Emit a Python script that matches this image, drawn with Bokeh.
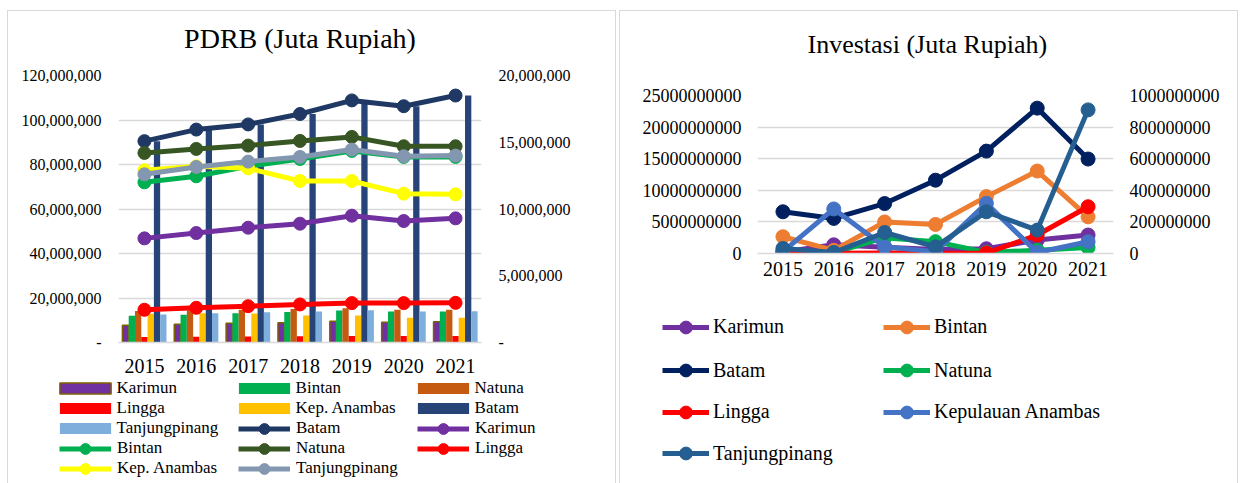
from bokeh.plotting import figure
from bokeh.models import (ColumnDataSource, FactorRange, Range1d, LinearAxis, FixedTicker,
                          Legend, LegendItem, Title)
from bokeh.transform import dodge
from bokeh.layouts import row, column
from bokeh.embed import file_html
from bokeh.resources import INLINE

FONT = "Liberation Serif"
GRID = "#D9D9D9"
BORDER = "1px solid #D9D9D9"

years = ["2015", "2016", "2017", "2018", "2019", "2020", "2021"]

# ---------------- PDRB (Juta Rupiah) ----------------
pdrb_karimun = [7800000, 8200000, 8600000, 8900000, 9500000, 9100000, 9300000]
pdrb_bintan = [12000000, 12450000, 13200000, 13750000, 14350000, 13900000, 13900000]
pdrb_natuna = [14200000, 14500000, 14750000, 15100000, 15400000, 14700000, 14700000]
pdrb_lingga = [2450000, 2600000, 2720000, 2850000, 2950000, 2950000, 2970000]
pdrb_anambas = [12900000, 13200000, 13050000, 12100000, 12100000, 11150000, 11100000]
pdrb_batam = [90500000, 95700000, 98000000, 102700000, 108800000, 106200000, 111000000]
pdrb_tanjungpinang = [12600000, 13150000, 13550000, 13900000, 14450000, 13950000, 14000000]

pdrb_left_ticks = [0, 20000000, 40000000, 60000000, 80000000, 100000000, 120000000]
pdrb_left_labels = ["-", "20,000,000", "40,000,000", "60,000,000", "80,000,000",
                    "100,000,000", "120,000,000"]
pdrb_right_ticks = [0, 5000000, 10000000, 15000000, 20000000]
pdrb_right_labels = ["-", "5,000,000", "10,000,000", "15,000,000", "20,000,000"]

# ---------------- Investasi (Juta Rupiah) ----------------
inv_karimun = [10000000, 55000000, 40000000, 25000000, 30000000, 85000000, 117000000]
inv_bintan = [2650000000, 500000000, 5000000000, 4600000000, 9000000000, 13050000000, 5800000000]
inv_batam = [6600000000, 5550000000, 7900000000, 11600000000, 16200000000, 23000000000, 14950000000]
inv_natuna = [15000000, 5000000, 100000000, 75000000, 6000000, 21000000, 38000000]
inv_lingga = [3000000, 2000000, 3000000, 2000000, 3000000, 117000000, 296000000]
inv_anambas = [12000000, 282000000, 42000000, 11000000, 317000000, 6000000, 74000000]
inv_tanjungpinang = [32000000, 6000000, 133000000, 42000000, 264000000, 148000000, 909000000]

inv_left_ticks = [0, 5000000000, 10000000000, 15000000000, 20000000000, 25000000000]
inv_left_labels = ["0", "5000000000", "10000000000", "15000000000", "20000000000", "25000000000"]
inv_right_ticks = [0, 200000000, 400000000, 600000000, 800000000, 1000000000]
inv_right_labels = ["0", "200000000", "400000000", "600000000", "800000000", "1000000000"]


def style_y_axis(ax, ticks, labels, size, standoff):
    ax.ticker = FixedTicker(ticks=ticks)
    ax.major_label_overrides = {t: l for t, l in zip(ticks, labels)}
    ax.axis_line_color = None
    ax.major_tick_line_color = None
    ax.minor_tick_line_color = None
    ax.major_tick_out = 0
    ax.major_tick_in = 0
    ax.major_label_text_font = FONT
    ax.major_label_text_font_size = size
    ax.major_label_text_color = "black"
    ax.major_label_standoff = standoff


def style_x_axis(ax, standoff):
    ax.axis_line_color = GRID
    ax.axis_line_width = 1.5
    ax.major_tick_line_color = None
    ax.minor_tick_line_color = None
    ax.major_tick_out = 0
    ax.major_tick_in = 0
    ax.major_label_text_font = FONT
    ax.major_label_text_font_size = "20px"
    ax.major_label_text_color = "black"
    ax.major_label_standoff = standoff


def add_titles(p, text, size, standoff, spacer_standoff, align="center", offset=0):
    # a tiny spacer next to the frame, then the real title above it
    p.add_layout(Title(text=" ", text_font_size="2px", standoff=spacer_standoff,
                       text_color="white"), "above")
    p.add_layout(Title(text=text, align=align, offset=offset, text_font=FONT,
                       text_font_size=size, text_font_style="normal", text_color="black",
                       standoff=standoff), "above")


def add_legend(p, items, vx, vy, gw, gh, lh, lw, standoff, size):
    leg = Legend(items=items, orientation="horizontal", location=(vx, vy),
                 glyph_width=gw, glyph_height=gh, label_width=lw, label_height=lh,
                 label_standoff=standoff, spacing=0, padding=0, margin=0,
                 border_line_color=None, background_fill_alpha=0,
                 label_text_font=FONT, label_text_font_size=size,
                 label_text_color="black")
    p.add_layout(leg)


def legend_canvas(width, height, styles, far):
    # a plain canvas under each chart that only carries its legend; the proxy
    # renderers it holds are hidden, so only their legend swatches are drawn
    f = figure(width=width, height=height, output_backend="svg", toolbar_location=None,
               x_range=FactorRange(factors=years), y_range=Range1d(far, 2 * far),
               x_axis_type=None, y_axis_type=None, min_border=0, min_border_left=0,
               min_border_right=0, min_border_top=0, min_border_bottom=0,
               outline_line_color=None, frame_align=False, styles=styles)
    f.grid.grid_line_color = None
    return f


# ======================= Left chart: PDRB =======================
p1 = figure(title=None, x_range=FactorRange(factors=years), y_range=Range1d(0, 120000000),
            width=609, height=368, output_backend="svg", toolbar_location=None,
            min_border_left=110, min_border_right=136, min_border_top=64,
            min_border_bottom=37, outline_line_color=None, frame_align=False,
            styles={"border-top": BORDER, "border-left": BORDER, "border-right": BORDER})
p1.extra_y_ranges = {"right": Range1d(0, 20000000)}
add_titles(p1, "PDRB (Juta Rupiah)", "28px", 19, 8)

p1.xgrid.grid_line_color = None
p1.ygrid.ticker = FixedTicker(ticks=pdrb_left_ticks)
p1.ygrid.grid_line_color = GRID
p1.ygrid.grid_line_width = 1.5

style_y_axis(p1.yaxis[0], pdrb_left_ticks, pdrb_left_labels, "16px", 17)
ax_r1 = LinearAxis(y_range_name="right")
style_y_axis(ax_r1, pdrb_right_ticks, pdrb_right_labels, "16px", 17)
p1.add_layout(ax_r1, "right")
style_x_axis(p1.xaxis[0], 16)

bar_series = [
    ("Karimun", pdrb_karimun, "#7030A0", "#7F6000"),
    ("Bintan", pdrb_bintan, "#00B050", None),
    ("Natuna", pdrb_natuna, "#C55A11", None),
    ("Lingga", pdrb_lingga, "#FF0000", None),
    ("Kep. Anambas", pdrb_anambas, "#FFC000", None),
    ("Batam", pdrb_batam, "#264478", None),
    ("Tanjungpinang", pdrb_tanjungpinang, "#7DAEDC", None),
]
line_series = [
    ("Batam", pdrb_batam, "#1F3864", "default"),
    ("Karimun", pdrb_karimun, "#7030A0", "right"),
    ("Bintan", pdrb_bintan, "#00B050", "right"),
    ("Natuna", pdrb_natuna, "#375623", "right"),
    ("Lingga", pdrb_lingga, "#FF0000", "right"),
    ("Kep. Anambas", pdrb_anambas, "#FFFF00", "right"),
    ("Tanjungpinang", pdrb_tanjungpinang, "#8497B0", "right"),
]

l1_top, l1_left, l1_h = 378, 7, 105
l1 = legend_canvas(609, l1_h, {"border-left": BORDER, "border-right": BORDER}, 1e12)

bw = 0.85 / 7
lg_bar = {}
for i, (name, vals, col, lc) in enumerate(bar_series):
    src = ColumnDataSource(dict(x=years, y=vals))
    kw = dict(fill_color=col, line_color=lc if lc else None, line_width=1.5 if lc else 0)
    p1.vbar(x=dodge("x", (i - 3) * bw, range=p1.x_range), top="y", width=bw, source=src, **kw)
    lg_bar[name] = l1.vbar(x="x", top="y", width=bw, source=src, visible=False, **kw)

lg_line = {}
for name, vals, col, rng in line_series:
    src = ColumnDataSource(dict(x=years, y=vals))
    p1.line(x="x", y="y", source=src, line_color=col, line_width=5, y_range_name=rng)
    p1.scatter(x="x", y="y", source=src, size=13, fill_color=col, line_color=col,
               y_range_name=rng)
    a = l1.line(x="x", y="y", source=src, line_color=col, line_width=5, visible=False)
    b = l1.scatter(x="x", y="y", source=src, size=13, fill_color=col, line_color=col,
                   visible=False)
    lg_line[name] = [a, b]

rows_y = [388.3, 408.3, 428.3, 448.3, 468.3]
BAR_GH, LINE_GH, ITEM_H = 14, 27, 27
bottom1 = l1_top + l1_h


def vy1(yc):
    return bottom1 - (yc + ITEM_H / 2)


bar_vx = 58 - 6.4 - l1_left
line_vx = 58 - l1_left
col2_vx = 237 - l1_left
add_legend(l1, [LegendItem(label=n, renderers=[lg_bar[n]]) for n in ["Karimun", "Bintan", "Natuna"]],
           bar_vx, vy1(rows_y[0]), 64, BAR_GH, ITEM_H, 115, 0, "17px")
add_legend(l1, [LegendItem(label=n, renderers=[lg_bar[n]]) for n in ["Lingga", "Kep. Anambas", "Batam"]],
           bar_vx, vy1(rows_y[1]), 64, BAR_GH, ITEM_H, 115, 0, "17px")
add_legend(l1, [LegendItem(label="Tanjungpinang", renderers=[lg_bar["Tanjungpinang"]])],
           bar_vx, vy1(rows_y[2]), 64, BAR_GH, ITEM_H, 115, 0, "17px")
add_legend(l1, [LegendItem(label=n, renderers=lg_line[n]) for n in ["Batam", "Karimun"]],
           col2_vx, vy1(rows_y[2]), 52, LINE_GH, ITEM_H, 121, 6, "17px")
add_legend(l1, [LegendItem(label=n, renderers=lg_line[n]) for n in ["Bintan", "Natuna", "Lingga"]],
           line_vx, vy1(rows_y[3]), 52, LINE_GH, ITEM_H, 121, 6, "17px")
add_legend(l1, [LegendItem(label=n, renderers=lg_line[n]) for n in ["Kep. Anambas", "Tanjungpinang"]],
           line_vx, vy1(rows_y[4]), 52, LINE_GH, ITEM_H, 121, 6, "17px")

# ======================= Right chart: Investasi =======================
p2 = figure(title=None, x_range=FactorRange(factors=years), y_range=Range1d(0, 25000000000),
            width=619, height=276, output_backend="svg", toolbar_location=None,
            min_border_left=137, min_border_right=126, min_border_top=84,
            min_border_bottom=34, outline_line_color=None, frame_align=False,
            styles={"border-top": BORDER, "border-left": BORDER, "border-right": BORDER})
p2.extra_y_ranges = {"right": Range1d(0, 1000000000)}
add_titles(p2, "Investasi (Juta Rupiah)", "26px", 33, 16, align="left", offset=50)

p2.xgrid.grid_line_color = None
p2.ygrid.ticker = FixedTicker(ticks=inv_left_ticks)
p2.ygrid.grid_line_color = GRID
p2.ygrid.grid_line_width = 1.5

style_y_axis(p2.yaxis[0], inv_left_ticks, inv_left_labels, "18px", 16)
ax_r2 = LinearAxis(y_range_name="right")
style_y_axis(ax_r2, inv_right_ticks, inv_right_labels, "18px", 16)
p2.add_layout(ax_r2, "right")
style_x_axis(p2.xaxis[0], 8)

inv_series = [
    ("Karimun", inv_karimun, "#7030A0", "right"),
    ("Bintan", inv_bintan, "#ED7D31", "default"),
    ("Batam", inv_batam, "#002060", "default"),
    ("Natuna", inv_natuna, "#00B050", "right"),
    ("Lingga", inv_lingga, "#FF0000", "right"),
    ("Kepulauan Anambas", inv_anambas, "#4472C4", "right"),
    ("Tanjungpinang", inv_tanjungpinang, "#255E91", "right"),
]

l2_top, l2_left, l2_h = 286, 619, 197
l2 = legend_canvas(619, l2_h, {"border-left": BORDER, "border-right": BORDER}, 1e14)
lg_inv = {}
for name, vals, col, rng in inv_series:
    src = ColumnDataSource(dict(x=years, y=vals))
    p2.line(x="x", y="y", source=src, line_color=col, line_width=5, y_range_name=rng)
    p2.scatter(x="x", y="y", source=src, size=14, fill_color=col, line_color=col,
               y_range_name=rng)
    a = l2.line(x="x", y="y", source=src, line_color=col, line_width=5, visible=False)
    b = l2.scatter(x="x", y="y", source=src, size=14, fill_color=col, line_color=col,
                   visible=False)
    lg_inv[name] = [a, b]

RH = 32
r_rows = [326.7, 370.0, 411.7, 453.3]
bottom2 = l2_top + l2_h
r_vx = 661 - l2_left


def vy2(yc):
    return bottom2 - (yc + RH / 2)


for names, yc in [(["Karimun", "Bintan"], r_rows[0]), (["Batam", "Natuna"], r_rows[1]),
                  (["Lingga", "Kepulauan Anambas"], r_rows[2]), (["Tanjungpinang"], r_rows[3])]:
    add_legend(l2, [LegendItem(label=n, renderers=lg_inv[n]) for n in names],
               r_vx, vy2(yc), 47, RH, RH, 170, 4, "20px")

left_panel = column(p1, l1, spacing=0, margin=(10, 0, 0, 7))
right_panel = column(p2, l2, spacing=0, margin=(10, 0, 0, 3))
layout = row(left_panel, right_panel, spacing=0)
open("out.html", "w").write(file_html(layout, INLINE))
